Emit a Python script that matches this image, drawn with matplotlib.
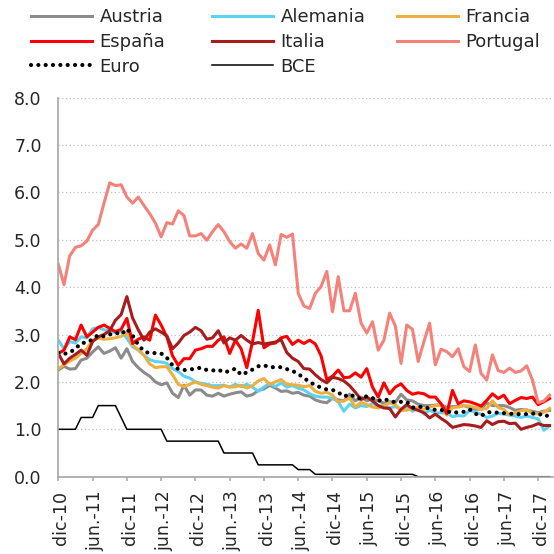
import numpy as np
import matplotlib.pyplot as plt
import matplotlib.transforms as mtransforms

# monthly data, dic-10 ... feb-18
months = np.arange(87)
tick_pos = np.arange(0, 85, 6)
tick_labels = ['dic-10', 'jun.-11', 'dic-11', 'jun.-12', 'dic-12', 'jun.-13', 'dic-13',
               'jun.-14', 'dic-14', 'jun-15', 'dic-15', 'jun-16', 'dic-16', 'jun-17', 'dic-17']

austria = [2.25, 2.33, 2.27, 2.28, 2.46, 2.50, 2.63, 2.74, 2.60, 2.65, 2.72, 2.50, 2.70, 2.43, 2.30,
           2.20, 2.12, 2.00, 1.94, 1.98, 1.76, 1.67, 1.93, 1.72, 1.83, 1.83, 1.72, 1.70, 1.76, 1.70,
           1.74, 1.77, 1.79, 1.70, 1.73, 1.82, 1.85, 1.93, 1.87, 1.80, 1.81, 1.76, 1.78, 1.72, 1.70,
           1.62, 1.58, 1.56, 1.66, 1.62, 1.60, 1.74, 1.60, 1.68, 1.60, 1.64, 1.60, 1.55, 1.58, 1.57,
           1.74, 1.62, 1.60, 1.53, 1.50, 1.50, 1.51, 1.52, 1.46, 1.48, 1.48, 1.50, 1.46, 1.42, 1.43,
           1.56, 1.50, 1.50, 1.50, 1.46, 1.40, 1.42, 1.40, 1.38, 1.35, 1.38, 1.40]

alemania = [2.88, 2.70, 2.85, 2.82, 2.95, 2.93, 3.12, 3.15, 3.10, 3.08, 3.04, 3.06, 2.92, 2.74, 2.67,
            2.56, 2.47, 2.43, 2.42, 2.39, 2.28, 2.22, 2.12, 2.08, 2.00, 1.97, 1.95, 1.92, 1.92, 1.93,
            1.89, 1.95, 1.90, 1.95, 1.89, 1.80, 1.89, 1.97, 1.90, 1.98, 1.89, 1.92, 1.87, 1.83, 1.75,
            1.70, 1.68, 1.68, 1.65, 1.58, 1.38, 1.53, 1.45, 1.50, 1.48, 1.55, 1.49, 1.50, 1.45, 1.48,
            1.42, 1.48, 1.38, 1.45, 1.32, 1.41, 1.34, 1.35, 1.34, 1.27, 1.29, 1.28, 1.40, 1.36, 1.32,
            1.25, 1.28, 1.34, 1.32, 1.30, 1.28, 1.25, 1.28, 1.25, 1.22, 0.98, 1.07]

francia = [2.28, 2.36, 2.44, 2.50, 2.60, 2.70, 2.88, 2.92, 2.90, 2.91, 2.93, 2.96, 3.04, 2.78, 2.68,
           2.56, 2.38, 2.30, 2.32, 2.32, 2.15, 1.95, 1.90, 1.95, 2.00, 1.95, 1.92, 1.89, 1.87, 1.92,
           1.89, 1.90, 1.93, 1.87, 1.92, 2.02, 2.07, 1.95, 2.00, 2.05, 1.95, 1.94, 1.93, 1.90, 1.92,
           1.80, 1.76, 1.78, 1.72, 1.58, 1.60, 1.66, 1.47, 1.57, 1.52, 1.47, 1.45, 1.50, 1.56, 1.52,
           1.40, 1.40, 1.44, 1.46, 1.42, 1.47, 1.50, 1.51, 1.30, 1.46, 1.47, 1.50, 1.49, 1.46, 1.42,
           1.44, 1.60, 1.46, 1.42, 1.30, 1.35, 1.39, 1.42, 1.33, 1.33, 1.36, 1.44]

espana = [2.60, 2.67, 2.95, 2.89, 3.20, 2.95, 3.05, 3.15, 3.20, 3.13, 3.06, 3.11, 3.34, 2.81, 2.90,
          2.95, 2.88, 3.41, 3.20, 2.95, 2.55, 2.35, 2.49, 2.49, 2.67, 2.70, 2.75, 2.75, 2.88, 2.95,
          2.60, 2.88, 2.70, 2.30, 2.85, 3.51, 2.72, 2.80, 2.82, 2.93, 2.96, 2.79, 2.88, 2.81, 2.88,
          2.80, 2.55, 2.05, 2.12, 2.25, 2.09, 2.10, 2.19, 2.10, 2.28, 1.89, 1.68, 1.98, 1.75, 1.89,
          1.96, 1.82, 1.74, 1.77, 1.75, 1.68, 1.68, 1.54, 1.33, 1.82, 1.54, 1.60, 1.58, 1.54, 1.49,
          1.61, 1.75, 1.65, 1.72, 1.54, 1.61, 1.67, 1.65, 1.68, 1.52, 1.58, 1.65]

italia = [2.60, 2.38, 2.50, 2.58, 2.67, 2.56, 2.85, 2.95, 3.00, 3.08, 3.30, 3.42, 3.80, 3.35, 3.10,
          2.88, 3.05, 3.12, 3.05, 2.97, 2.70, 2.82, 2.98, 3.05, 3.15, 3.08, 2.90, 2.93, 3.08, 2.82,
          2.93, 2.88, 2.98, 2.88, 2.80, 2.83, 2.80, 2.82, 2.84, 2.89, 2.62, 2.50, 2.43, 2.28, 2.27,
          2.15, 2.05, 1.98, 2.10, 2.07, 2.02, 1.92, 1.78, 1.63, 1.68, 1.60, 1.50, 1.45, 1.44, 1.26,
          1.42, 1.52, 1.44, 1.40, 1.35, 1.24, 1.32, 1.23, 1.15, 1.04, 1.07, 1.10, 1.09, 1.07, 1.04,
          1.18, 1.10, 1.16, 1.17, 1.12, 1.13, 1.00, 1.04, 1.07, 1.12, 1.08, 1.08]

portugal = [4.48, 4.05, 4.66, 4.84, 4.87, 4.97, 5.20, 5.32, 5.77, 6.20, 6.14, 6.16, 5.90, 5.77, 5.90,
            5.72, 5.55, 5.35, 5.06, 5.36, 5.33, 5.61, 5.51, 5.08, 5.08, 5.13, 4.99, 5.17, 5.32, 5.17,
            4.96, 4.82, 4.91, 4.82, 5.13, 4.71, 4.57, 4.89, 4.47, 5.11, 5.05, 5.12, 3.87, 3.60, 3.55,
            3.87, 4.01, 4.33, 3.48, 4.22, 3.50, 3.50, 3.87, 3.24, 3.03, 3.27, 2.67, 2.88, 3.45, 3.18,
            2.39, 3.20, 3.11, 2.43, 2.85, 3.24, 2.36, 2.69, 2.64, 2.53, 2.70, 2.32, 2.22, 2.78, 2.18,
            2.04, 2.57, 2.24, 2.20, 2.29, 2.20, 2.23, 2.34, 2.04, 1.56, 1.60, 1.72]

euro = [2.62, 2.59, 2.62, 2.70, 2.82, 2.83, 2.90, 2.99, 2.96, 3.00, 3.04, 3.00, 3.12, 2.98, 2.78,
        2.65, 2.60, 2.61, 2.60, 2.51, 2.35, 2.27, 2.25, 2.26, 2.28, 2.30, 2.25, 2.24, 2.26, 2.20,
        2.23, 2.28, 2.15, 2.20, 2.26, 2.33, 2.35, 2.31, 2.31, 2.31, 2.27, 2.23, 2.17, 2.08, 2.00,
        1.93, 1.88, 1.84, 1.83, 1.78, 1.69, 1.74, 1.68, 1.64, 1.70, 1.66, 1.60, 1.64, 1.60, 1.57,
        1.58, 1.58, 1.46, 1.47, 1.48, 1.43, 1.41, 1.41, 1.38, 1.35, 1.36, 1.37, 1.42, 1.33, 1.28,
        1.36, 1.36, 1.35, 1.34, 1.33, 1.32, 1.32, 1.32, 1.33, 1.34, 1.27, 1.30]

bce = [1.00, 1.00, 1.00, 1.00, 1.25, 1.25, 1.25, 1.50, 1.50, 1.50, 1.50, 1.25, 1.00, 1.00, 1.00,
       1.00, 1.00, 1.00, 1.00, 0.75, 0.75, 0.75, 0.75, 0.75, 0.75, 0.75, 0.75, 0.75, 0.75, 0.50,
       0.50, 0.50, 0.50, 0.50, 0.50, 0.25, 0.25, 0.25, 0.25, 0.25, 0.25, 0.25, 0.15, 0.15, 0.15,
       0.05, 0.05, 0.05, 0.05, 0.05, 0.05, 0.05, 0.05, 0.05, 0.05, 0.05, 0.05, 0.05, 0.05, 0.05,
       0.05, 0.05, 0.05, 0.00, 0.00, 0.00, 0.00, 0.00, 0.00, 0.00, 0.00, 0.00, 0.00, 0.00, 0.00,
       0.00, 0.00, 0.00, 0.00, 0.00, 0.00, 0.00, 0.00, 0.00, 0.00, 0.00, 0.00]

W = 554
fig = plt.figure(figsize=(5.54, 5.54), dpi=100)
ax = fig.add_axes([58.3 / W, 1 - 476.7 / W, (553 - 58.3) / W, (476.7 - 97.5) / W])

lw = 2.2
l_aus, = ax.plot(months, austria, color='#8c8c8c', lw=lw, label='Austria')
l_ale, = ax.plot(months, alemania, color='#5cd3f3', lw=lw, label='Alemania')
l_fra, = ax.plot(months, francia, color='#edb040', lw=lw, label='Francia')
l_esp, = ax.plot(months, espana, color='#ff0000', lw=lw, label='España')
l_ita, = ax.plot(months, italia, color='#a71d1d', lw=lw, label='Italia')
l_por, = ax.plot(months, portugal, color='#f4827b', lw=lw, label='Portugal')
l_eur, = ax.plot(months, euro, color='black', lw=3.0, linestyle=(0, (0.01, 1.75)),
                 dash_capstyle='round', label='Euro')
l_bce, = ax.plot(months, bce, color='black', lw=1.1, label='BCE')

ax.set_xlim(0, 86.6)
ax.set_ylim(0, 8)
ax.set_yticks(np.arange(0, 9, 1))
ax.set_yticklabels([f'{v:.1f}' for v in range(9)])
ax.set_xticks(tick_pos)
ax.set_xticklabels(tick_labels, rotation=90)

ax.grid(axis='y', color='#c0c0c0', linestyle=(0, (1, 2)), lw=0.9)
ax.set_axisbelow(True)
for s in ['top', 'right']:
    ax.spines[s].set_visible(False)
for s in ['left', 'bottom']:
    ax.spines[s].set_color('#a6a6a6')
    ax.spines[s].set_linewidth(1.2)

ax.tick_params(axis='y', length=0, pad=12, labelsize=12.5, labelcolor='#262626')
ax.tick_params(axis='x', length=3, width=1.1, color='#a6a6a6', direction='out',
               pad=7, labelsize=12.5, labelcolor='#262626')
offset = mtransforms.ScaledTranslation(3 / 100, 0, fig.dpi_scale_trans)
for lab in ax.get_xticklabels():
    lab.set_transform(lab.get_transform() + offset)

cols = [([l_aus, l_esp, l_eur], 31), ([l_ale, l_ita, l_bce], 212), ([l_fra, l_por], 397)]
for handles, x in cols:
    leg = fig.legend(handles=handles, loc='upper left', bbox_to_anchor=(x / W, 1 - 8 / W),
                     frameon=False, fontsize=13, handlelength=3.4, handletextpad=0.4,
                     labelspacing=0.38, borderpad=0, borderaxespad=0)
    for t in leg.get_texts():
        t.set_color('#262626')

fig.savefig('out.png', dpi=100)
